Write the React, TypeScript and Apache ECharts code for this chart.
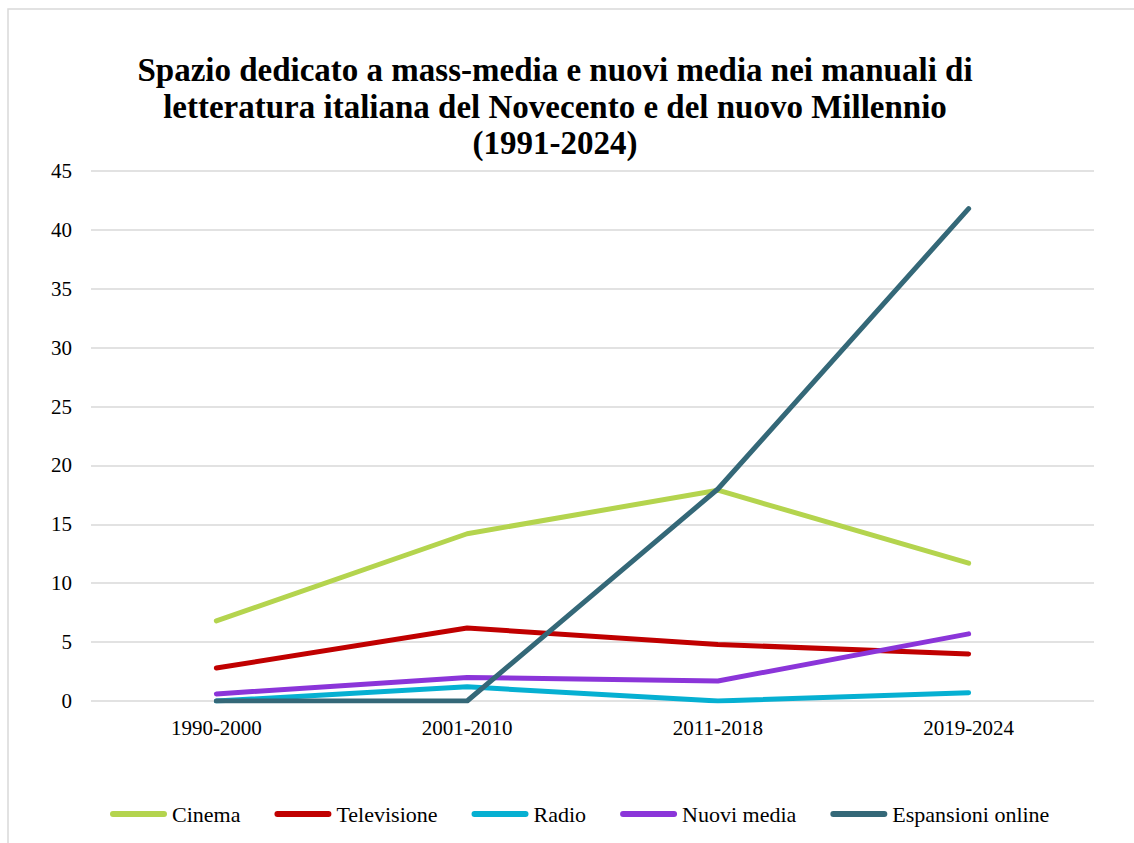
import React, { useEffect, useRef } from "react";
import * as echarts from "echarts";

const categories = ["1990-2000", "2001-2010", "2011-2018", "2019-2024"];
const cinema = [6.8, 14.2, 17.9, 11.7];
const televisione = [2.8, 6.2, 4.8, 4.0];
const radio = [0, 1.2, 0, 0.7];
const nuoviMedia = [0.6, 2.0, 1.7, 5.7];
const espansioniOnline = [0, 0, 18, 41.8];

const seriesDefs = [
  { name: "Cinema", data: cinema, color: "#B4D44E" },
  { name: "Televisione", data: televisione, color: "#C00000" },
  { name: "Radio", data: radio, color: "#06B0D2" },
  { name: "Nuovi media", data: nuoviMedia, color: "#8B35D9" },
  { name: "Espansioni online", data: espansioniOnline, color: "#346878" },
];

const FONT = "Liberation Serif";

const LEGEND_ICON = "path://M3,0 L54,0 A3,3 0 0 1 54,6 L3,6 A3,3 0 0 1 3,0 Z";

export default function App() {
  const ref = useRef<HTMLDivElement>(null);
  useEffect(() => {
    if (!ref.current) return;
    const chart = echarts.init(ref.current, undefined, { renderer: "svg" });
    chart.setOption({
      animation: false,
      backgroundColor: "#ffffff",
      title: {
        text: "Spazio dedicato a mass-media e nuovi media nei manuali di\nletteratura italiana del Novecento e del nuovo Millennio\n(1991-2024)",
        left: 550,
        top: 47,
        textAlign: "center",
        textStyle: {
          fontFamily: FONT,
          fontWeight: "bold",
          fontSize: 33,
          lineHeight: 36.5,
          color: "#000000",
        },
      },
      graphic: [
        {
          type: "rect",
          shape: { x: 8, y: 9, width: 1160, height: 900 },
          style: { fill: "none", stroke: "#d9d9d9", lineWidth: 1.5 },
          silent: true,
        },
      ],
      legend: {
        left: 110,
        top: 803,
        padding: 0,
        icon: LEGEND_ICON,
        itemWidth: 57,
        itemHeight: 6,
        itemGap: 34,
        textStyle: { fontFamily: FONT, fontSize: 22, color: "#000000" },
        data: seriesDefs.map((s) => s.name),
      },
      grid: { left: 91, right: 40, top: 171, bottom: 142, containLabel: false },
      xAxis: {
        type: "category",
        data: categories,
        boundaryGap: true,
        axisLine: { show: false },
        axisTick: { show: false },
        axisLabel: { fontFamily: FONT, fontSize: 21, color: "#000000", margin: 16 },
      },
      yAxis: {
        type: "value",
        min: 0,
        max: 45,
        interval: 5,
        axisLine: { show: false },
        axisTick: { show: false },
        axisLabel: { fontFamily: FONT, fontSize: 21, color: "#000000", margin: 19 },
        splitLine: { lineStyle: { color: "#d9d9d9", width: 1.5 } },
      },
      series: seriesDefs.map((s) => ({
        name: s.name,
        type: "line",
        data: s.data,
        symbol: "none",
        showSymbol: false,
        color: s.color,
        lineStyle: { color: s.color, width: 5, cap: "round", join: "round" },
        itemStyle: { color: s.color },
      })),
    });
    return () => chart.dispose();
  }, []);
  return (
    <div
      ref={ref}
      style={{ position: "fixed", left: 0, top: 0, width: 1134, height: 843 }}
    />
  );
}
